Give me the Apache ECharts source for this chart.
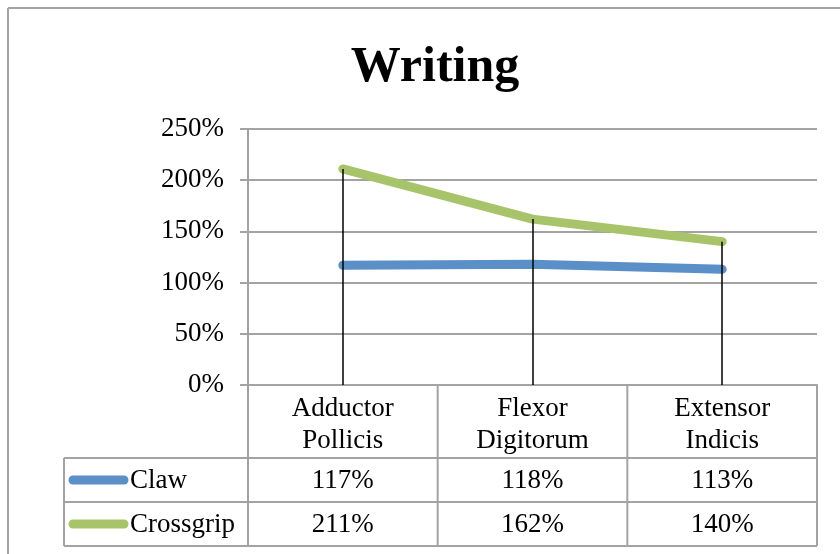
<!DOCTYPE html>
<html>
<head>
<meta charset="utf-8">
<script src="https://cdn.jsdelivr.net/npm/echarts@6/dist/echarts.min.js"></script>
<style>
  html, body { margin: 0; padding: 0; background: #fff; }
  #chart { width: 840px; height: 554px; }
</style>
</head>
<body>
<div id="chart"></div>
<script>
// 数据
const categories = ['Adductor\nPollicis', 'Flexor\nDigitorum', 'Extensor\nIndicis'];
const seriesNames = ['Claw', 'Crossgrip'];
const clawValues = [1.17, 1.18, 1.13];
const crossgripValues = [2.11, 1.62, 1.40];
const yTicks = [0, 0.5, 1, 1.5, 2, 2.5];

const colors = ['#5b8fc8', '#a8c46a'];
const font = '"Liberation Serif", "DejaVu Serif", serif';
const gridColor = '#a3a3a3';
const fs = 27;

const pct = v => Math.round(v * 100) + '%';

// 图表区域
const plotLeft = 248, plotRight = 817, plotTop = 129, plotBottom = 385;
const headerBottom = 458, rowH = 44;
const tableLeft = 64;

const chart = echarts.init(document.getElementById('chart'));

// 垂直线 (drop lines): 从 0 到每个分类的最高点
const dropLines = categories.map((c, i) => [
    { coord: [i, 0] },
    { coord: [i, Math.max(clawValues[i], crossgripValues[i])] }
]);

const option = {
    animation: false,
    title: {
        text: 'Writing',
        left: 430, top: 38, textAlign: 'center',
        textStyle: { fontFamily: font, fontSize: 50, fontWeight: 'bold', color: '#000' }
    },
    grid: { left: plotLeft, right: 840 - plotRight, top: plotTop, bottom: 554 - plotBottom },
    xAxis: {
        type: 'category',
        data: categories,
        boundaryGap: true,
        axisLine: { lineStyle: { color: gridColor, width: 2 } },
        axisTick: { show: false },
        axisLabel: {
            fontFamily: font, fontSize: fs, lineHeight: 32, color: '#000', margin: 8,
            align: 'center', interval: 0
        }
    },
    yAxis: {
        type: 'value',
        min: yTicks[0], max: yTicks[yTicks.length - 1], interval: 0.5,
        axisLine: { show: true, lineStyle: { color: gridColor, width: 2 } },
        axisTick: { show: true, length: 8, lineStyle: { color: gridColor, width: 2 } },
        splitLine: { lineStyle: { color: gridColor, width: 2 } },
        axisLabel: {
            fontFamily: font, fontSize: fs, color: '#000', margin: 24,
            formatter: v => pct(v)
        }
    },
    series: [
        {
            name: seriesNames[0], type: 'line', data: clawValues,
            symbol: 'none', z: 3,
            lineStyle: { color: colors[0], width: 9, cap: 'round', join: 'round' }
        },
        {
            name: seriesNames[1], type: 'line', data: crossgripValues,
            symbol: 'none', z: 3,
            lineStyle: { color: colors[1], width: 9, cap: 'round', join: 'round' },
            markLine: {
                silent: true, symbol: 'none', z: 4,
                label: { show: false },
                lineStyle: { color: '#000', width: 1.5, type: 'solid' },
                data: dropLines
            }
        }
    ]
};
chart.setOption(option);

// 数据表 (data table) 与外框
const buildTable = () => {
    const els = [];
    const line = (x1, y1, x2, y2, w) => ({
        type: 'line', silent: true, z: 10,
        shape: { x1, y1, x2, y2 },
        style: { stroke: gridColor, lineWidth: w || 2 }
    });
    // 外框
    els.push(line(8, 8, 840, 8, 2));
    els.push(line(8, 8, 8, 554, 2));

    const bandW = (plotRight - plotLeft) / categories.length;
    const tableBottom = headerBottom + rowH * seriesNames.length;
    // 列线
    for (let i = 0; i <= categories.length; i++) {
        const x = plotLeft + bandW * i;
        els.push(line(x, plotBottom, x, tableBottom));
    }
    els.push(line(tableLeft, headerBottom, tableLeft, tableBottom));
    // 行线
    for (let r = 0; r <= seriesNames.length; r++) {
        const y = headerBottom + rowH * r;
        els.push(line(tableLeft, y, plotRight, y));
    }
    const rows = [clawValues, crossgripValues];
    rows.forEach((vals, r) => {
        const cy = headerBottom + rowH * r + rowH / 2;
        els.push({
            type: 'line', silent: true, z: 11,
            shape: { x1: 73, y1: cy, x2: 124, y2: cy },
            style: { stroke: colors[r], lineWidth: 9, lineCap: 'round' }
        });
        els.push({
            type: 'text', silent: true, z: 11, x: 130, y: cy + 1,
            style: { text: seriesNames[r], font: fs + 'px ' + font, fill: '#000', verticalAlign: 'middle', align: 'left' }
        });
        vals.forEach((v, i) => {
            const cx = chart.convertToPixel({ xAxisIndex: 0 }, i);
            els.push({
                type: 'text', silent: true, z: 11, x: cx, y: cy + 1,
                style: { text: pct(v), font: fs + 'px ' + font, fill: '#000', verticalAlign: 'middle', align: 'center' }
            });
        });
    });
    return els;
};
chart.setOption({ graphic: buildTable() });
</script>
</body>
</html>
